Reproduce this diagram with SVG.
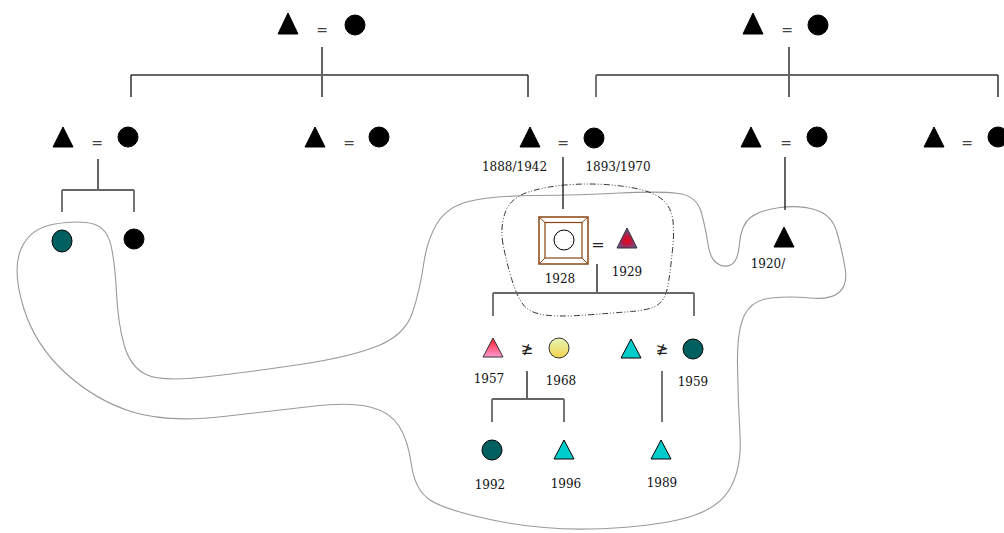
<svg xmlns="http://www.w3.org/2000/svg" width="1004" height="533" viewBox="0 0 1004 533">
<defs>
<radialGradient id="gPurple" cx="0.5" cy="0.62" r="0.55">
<stop offset="0" stop-color="#ee0a20"/><stop offset="0.35" stop-color="#c0143c"/><stop offset="1" stop-color="#5c5c98"/>
</radialGradient>
<linearGradient id="gPink" x1="0" y1="0" x2="0" y2="1">
<stop offset="0" stop-color="#ff1a2a"/><stop offset="1" stop-color="#ff9ad0"/>
</linearGradient>
<linearGradient id="gYellow" x1="0" y1="0" x2="0" y2="1">
<stop offset="0" stop-color="#e4f4b8"/><stop offset="1" stop-color="#f4d44c"/>
</linearGradient>
</defs>
<style>
.m{fill:#000;stroke:#000;stroke-width:1}
.teal{fill:#006060;stroke:#000;stroke-width:1}
.cyan{fill:#00cccc;stroke:#000;stroke-width:1}
.v{stroke:#222;stroke-width:1.4;fill:none}
.bar{stroke:#666;stroke-width:1.8;fill:none}
.eq{font-family:"DejaVu Sans",sans-serif;font-size:14px;fill:#444;text-anchor:middle}
.yr{font-family:"DejaVu Serif",serif;font-size:12px;fill:#111;text-anchor:middle}
.dv{font-family:"DejaVu Sans",sans-serif;font-size:15px;fill:#222;text-anchor:middle}
.blob{fill:none;stroke:#999;stroke-width:1.1}
.dash{fill:none;stroke:#333;stroke-width:1;stroke-dasharray:6 2 1 2 1 2}
</style>

<g id="outlines">
<path class="blob" d="M93.5,224 Q107,228 111,245.5 Q115,263 116.5,293 Q118,323 124,344.5 Q130,366 145,374 Q160,382 205,377 Q250,372 300,364.5 Q350,357 377.5,346 Q405,335 412.5,312.5 Q420,290 423.5,265 Q427,240 437,223.5 Q447,207 468.5,201.5 Q490,196 535,195.5 Q580,195 620,193 Q660,191 678.5,193.5 Q697,196 701.5,213 Q706,230 708,244 Q710,258 716.5,263 Q723,268 730.5,265 Q738,262 739.5,243.5 Q741,225 750.5,217.5 Q760,210 780,207.5 Q800,205 816,210 Q832,215 837,232.5 Q842,250 845,267.5 Q848,285 839,292.5 Q830,300 810,298 Q790,296 771,298 Q752,300 744.5,315 Q737,330 737.5,365 Q738,400 740,435 Q742,470 728.5,491 Q715,512 677.5,520 Q640,528 590,529 Q540,530 492.5,520 Q445,510 430,500 Q415,490 411.5,465 Q408,440 399,426 Q390,412 370,407 Q350,402 315,406 Q280,410 223.5,416.5 Q167,423 131,411.5 Q95,400 65,372.5 Q35,345 23.5,307.5 Q12,270 21,249 Q30,228 55,224 Q80,220 93.5,224 Z"/>
<path class="dash" d="M503,244 Q500,228 505,213 Q510,198 528.5,192 Q547,186 572,184.5 Q597,183 621,186 Q645,189 656.5,195.5 Q668,202 671.5,213.5 Q675,225 672.5,250 Q670,275 667.5,287.5 Q665,300 657.5,305 Q650,310 631.5,311.5 Q613,313 586.5,315 Q560,317 545,315 Q530,313 523.5,305 Q517,297 511.5,278.5 Q506,260 503,244 Z"/>
</g>

<g id="connectors">
<line class="v" x1="322" y1="47" x2="322" y2="97"/>
<line class="bar" x1="131" y1="75" x2="528" y2="75"/>
<line class="v" x1="131" y1="75" x2="131" y2="97"/>
<line class="v" x1="528" y1="75" x2="528" y2="97"/>
<line class="v" x1="789" y1="47" x2="789" y2="97"/>
<line class="bar" x1="596" y1="75" x2="998" y2="75"/>
<line class="bar" x1="596" y1="75" x2="596" y2="97"/>
<line class="v" x1="998" y1="75" x2="998" y2="97"/>
<line class="v" x1="98" y1="159" x2="98" y2="190"/>
<line class="bar" x1="62" y1="190" x2="134" y2="190"/>
<line class="bar" x1="62" y1="190" x2="62" y2="212"/>
<line class="bar" x1="134" y1="190" x2="134" y2="212"/>
<line class="v" x1="563" y1="157" x2="563" y2="209"/>
<line class="v" x1="785" y1="157" x2="785" y2="210"/>
<line class="v" x1="597" y1="264" x2="597" y2="293"/>
<line class="bar" x1="493" y1="293" x2="694" y2="293"/>
<line class="bar" x1="493" y1="293" x2="493" y2="316"/>
<line class="bar" x1="694" y1="293" x2="694" y2="316"/>
<line class="v" x1="527" y1="371" x2="527" y2="399"/>
<line class="bar" x1="492" y1="399" x2="564" y2="399"/>
<line class="bar" x1="492" y1="399" x2="492" y2="422"/>
<line class="bar" x1="564" y1="399" x2="564" y2="422"/>
<line class="bar" x1="662" y1="371" x2="662" y2="422"/>
</g>

<g id="top-left-couple">
<polygon class="m" points="288,13 278,34 298,34"/>
<text class="eq" x="322" y="35">=</text>
<circle class="m" cx="355" cy="25" r="10"/>
</g>
<g id="top-right-couple">
<polygon class="m" points="753,13 743,34 763,34"/>
<text class="eq" x="787" y="35">=</text>
<circle class="m" cx="818" cy="25" r="10"/>
</g>

<g id="couple-1">
<polygon class="m" points="63,127 53,147 73,147"/>
<text class="eq" x="97" y="148">=</text>
<circle class="m" cx="128" cy="137" r="10"/>
</g>
<g id="couple-2">
<polygon class="m" points="315,127 305,147 325,147"/>
<text class="eq" x="349" y="148">=</text>
<circle class="m" cx="379" cy="137" r="10"/>
</g>
<g id="couple-3">
<polygon class="m" points="530,127 520,147 540,147"/>
<text class="eq" x="563" y="148">=</text>
<circle class="m" cx="594" cy="138" r="10"/>
<text class="yr" x="514.5" y="171">1888/1942</text>
<text class="yr" x="618" y="171">1893/1970</text>
</g>
<g id="couple-4">
<polygon class="m" points="751,127 741,147 761,147"/>
<text class="eq" x="786" y="148">=</text>
<circle class="m" cx="817" cy="137" r="10"/>
</g>
<g id="couple-5">
<polygon class="m" points="934,127 924,147 944,147"/>
<text class="eq" x="967" y="148">=</text>
<circle class="m" cx="998" cy="137" r="10"/>
</g>

<g id="child-teal">
<ellipse class="teal" cx="62" cy="241" rx="10" ry="11"/>
</g>
<g id="child-black">
<circle class="m" cx="134" cy="239" r="10"/>
</g>

<g id="ego-1928">
<rect x="539" y="217" width="49" height="47" fill="#fff" stroke="#8b4513" stroke-width="1.5"/>
<rect x="545" y="222.5" width="37" height="35.5" fill="#fff" stroke="#8b4513" stroke-width="1.2"/>
<path d="M539,217 L545,222.5 M588,217 L582,222.5 M539,264 L545,258 M588,264 L582,258" stroke="#8b4513" stroke-width="1"/>
<circle cx="564" cy="240" r="10" fill="#fff" stroke="#000" stroke-width="1"/>
<text class="yr" x="560" y="283">1928</text>
</g>
<g id="spouse-1929">
<text class="eq" x="598" y="250" style="font-size:16px;fill:#222">=</text>
<polygon points="627,228 617,248 637,248" fill="url(#gPurple)" stroke="#333" stroke-width="1"/>
<text class="yr" x="627" y="276">1929</text>
</g>
<g id="person-1920">
<polygon class="m" points="784,227 774,247 794,247"/>
<text class="yr" x="768" y="268">1920/</text>
</g>

<g id="person-1957">
<polygon points="493,338 483,357 503,357" fill="url(#gPink)" stroke="#333" stroke-width="1"/>
<text class="yr" x="489" y="383">1957</text>
</g>
<g id="div-1">
<text class="dv" x="527" y="354">≱</text>
</g>
<g id="person-1968">
<circle cx="559" cy="348" r="10" fill="url(#gYellow)" stroke="#333" stroke-width="1"/>
<text class="yr" x="561" y="385">1968</text>
</g>
<g id="person-cyan">
<polygon class="cyan" points="631,339 621,358 641,358"/>
</g>
<g id="div-2">
<text class="dv" x="662" y="354">≱</text>
</g>
<g id="person-1959">
<circle class="teal" cx="693" cy="349" r="10"/>
<text class="yr" x="693" y="386">1959</text>
</g>

<g id="person-1992">
<circle class="teal" cx="492" cy="450" r="10"/>
<text class="yr" x="490" y="489">1992</text>
</g>
<g id="person-1996">
<polygon class="cyan" points="564,440 554,459 574,459"/>
<text class="yr" x="566" y="488">1996</text>
</g>
<g id="person-1989">
<polygon class="cyan" points="661,440 651,459 671,459"/>
<text class="yr" x="662" y="487">1989</text>
</g>
</svg>
